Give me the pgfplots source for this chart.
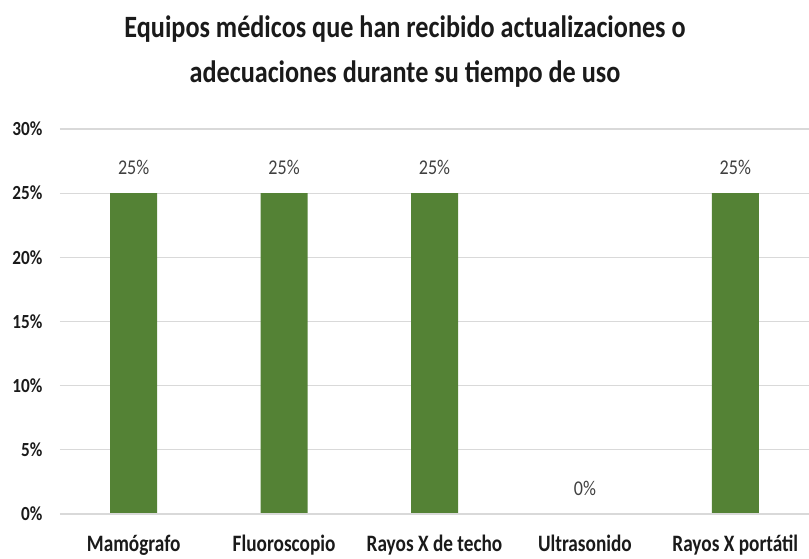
\documentclass[border=0pt]{standalone}
\usepackage{pgfplots}
\pgfplotsset{compat=1.18}
\usepackage{fontspec}
\setmainfont{Carlito}[FakeStretch=0.86]
\newfontfamily\titlefont{Carlito}[FakeStretch=0.845]
\newfontfamily\xlabfont{Carlito}[FakeStretch=0.82]
\usetikzlibrary{calc}
\definecolor{bargreen}{HTML}{548235}
\definecolor{gridgray}{HTML}{D9D9D9}
\definecolor{txt}{HTML}{1A1A1A}
\definecolor{lbl}{HTML}{404040}
\begin{document}
\begin{tikzpicture}
\begin{axis}[
  scale only axis,
  width=749pt, height=385pt,
  ymin=0, ymax=30,
  xmin=-0.49, xmax=4.49,
  ytick={0,5,10,15,20,25,30},
  yticklabel={\pgfmathprintnumber{\tick}\%},
  /pgf/number format/assume math mode=true,
  yticklabel style={font=\fontsize{20}{22}\selectfont\bfseries, text=txt, xshift=-14pt},
  xtick=data,
  xticklabels={Mamógrafo, Fluoroscopio, Rayos X de techo, Ultrasonido, Rayos X portátil},
  xticklabel style={font=\xlabfont\fontsize{23.5}{26}\selectfont\bfseries, text=txt, anchor=base, yshift=-37.5pt},
  major tick length=0pt,
  ymajorgrids,
  grid style={gridgray, line width=1.2pt},
  axis line style={draw=none},
  ybar,
  bar width=47pt,
  nodes near coords={\pgfmathprintnumber{\pgfplotspointmeta}\%},
  nodes near coords style={font=\fontsize{21}{23}\selectfont, text=lbl, yshift=26pt, anchor=center},
  clip=false,
]
\addplot[fill=bargreen, draw=none] coordinates {(0,25) (1,25) (2,25) (3,0) (4,25)};
\draw[gridgray, line width=1.2pt] (rel axis cs:0,0) -- (rel axis cs:1,0);
\end{axis}
\node[font=\titlefont\fontsize{31}{45}\selectfont\bfseries, text=txt, align=center] at ($(current axis.north west)+(345pt,77pt)$) {Equipos médicos que han recibido actualizaciones o\\adecuaciones durante su tiempo de uso};
\pgfresetboundingbox
\path ($(current axis.south west)+(-60pt,-45pt)$) rectangle ($(current axis.north east)+(0pt,129pt)$);
\end{tikzpicture}
\end{document}
